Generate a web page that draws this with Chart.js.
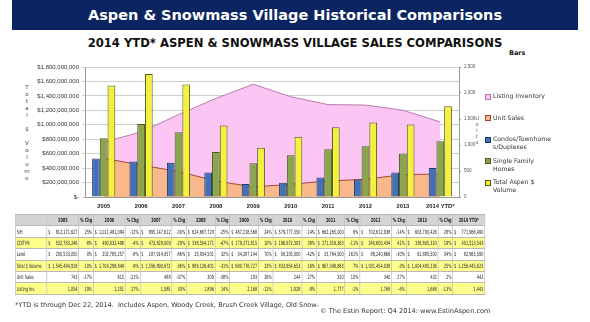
<!DOCTYPE html>
<html>
<head>
<meta charset="utf-8">
<script src="https://cdn.jsdelivr.net/npm/chart.js@4"></script>
<style>
  body { margin: 0; width: 590px; height: 322px; background: #fff; position: relative; overflow: hidden; font-family: "DejaVu Sans", sans-serif; }
  #banner { position: absolute; left: 12px; top: 0; width: 566px; height: 30px; background: #0b2462;
            color: #fff; font: bold 14.5px "DejaVu Sans", sans-serif; text-align: center; line-height: 30px; }
  #subtitle { position: absolute; left: 0; top: 36px; width: 590px; text-align: center; font: bold 11.6px "DejaVu Sans", sans-serif; color: #111; }
  #bars { position: absolute; left: 509px; top: 49px; font: bold 6.5px "DejaVu Sans", sans-serif; color: #111; }
  #chart { position: absolute; left: 0; top: 58px; }
  .vlabel { position: absolute; text-align: center; color: #444; font-family: "DejaVu Sans", sans-serif; }
  #legend { position: absolute; left: 485px; top: 92px; font: 6.2px "DejaVu Sans", sans-serif; color: #333; }
  #legend div { position: relative; padding-left: 8px; line-height: 8px; height: 21.5px; width: 80px; }
  #legend span { position: absolute; left: 0; top: 1.5px; width: 4px; height: 4px; border: 1px solid; }
  #tblwrap { position: absolute; left: 15px; top: 214px; transform-origin: 0 0; }
  table { border-collapse: collapse; font: 5.8px "DejaVu Sans Condensed", "DejaVu Sans", sans-serif; color: #222; border: 1px solid #555; }
  td { border: 1px solid #b8b8b8; height: 10.4px; padding: 0 1.5px; white-space: nowrap; text-align: right; }
  td.lbl { text-align: left; min-width: 44px; }
  tr.hd td { background: #d4d4d4; font-weight: bold; text-align: center; }
  tr.yl td { background: #ffff8c; }
  .money { display: flex; justify-content: space-between; gap: 3px; }
  #foot { position: absolute; left: 15px; top: 301px; font: 6.5px "DejaVu Sans", sans-serif; color: #333; }
  #copy { position: absolute; left: 320px; top: 307px; font: 6.6px "DejaVu Sans", sans-serif; color: #333; }
</style>
</head>
<body>
<div id="banner">Aspen &amp; Snowmass Village Historical Comparisons</div>
<div id="subtitle">2014 YTD* ASPEN &amp; SNOWMASS VILLAGE SALES COMPARISONS</div>
<div id="bars">Bars</div>
<canvas id="chart" width="480" height="157"></canvas>
<div class="vlabel" id="ytitle" style="left:22px; top:84px; width:10px; font-size:5.5px; line-height:7px;"></div>
<div class="vlabel" id="y2title" style="left:473px; top:115px; width:8px; font-size:5px; line-height:6px;"></div>
<div id="legend"></div>
<div id="tblwrap"><table id="tbl"></table></div>
<div id="foot">*YTD is through Dec 22, 2014.&nbsp; Includes Aspen, Woody Creek, Brush Creek Village, Old Snow-</div>
<div id="copy">© The Estin Report: Q4 2014: www.EstinAspen.com</div>
<script>
const years = ['2005', '2006', '2007', '2008', '2009', '2010', '2011', '2012', '2013', '2014 YTD*'];

const sfhVolume = [812171627, 1011481094, 895147612, 624687729, 467218568, 579777350, 662265000, 702612938, 603700426, 771966490];
const condoVolume = [532783246, 490032498, 473829009, 338504171, 179271815, 196972303, 271319363, 240600434, 338805310, 401513543];
const landVolume = [200533050, 202785257, 187914057, 25934501, 34287144, 58205000, 33764500, 88240666, 61895500, 82965590];
const totalVolume = [1545484918, 1704298849, 1556890672, 989126401, 680776727, 833954653, 967348863, 1031454038, 1004405236, 1256445623];
const unitSales = [743, 615, 488, 309, 193, 244, 310, 340, 432, 442];
const listingInv = [1054, 1251, 1585, 1896, 2168, 1928, 1777, 1768, 1668, 1443];

const sfhChg = ['25%', '-12%', '-30%', '-25%', '24%', '14%', '6%', '-14%', '28%'];
const condoChg = ['-8%', '-4%', '-29%', '-47%', '10%', '38%', '-11%', '41%', '19%'];
const landChg = ['0%', '-8%', '-86%', '32%', '70%', '-42%', '161%', '-30%', '34%'];
const totalChg = ['10%', '-9%', '-36%', '-31%', '23%', '16%', '7%', '-3%', '25%'];
const unitChg = ['-17%', '-21%', '-37%', '-38%', '26%', '27%', '10%', '27%', '2%'];
const listChg = ['19%', '27%', '30%', '14%', '-11%', '-8%', '-1%', '-6%', '-13%'];

const fmt = n => n.toLocaleString('en-US');

// vertical stacked axis titles
document.getElementById('ytitle').innerHTML = 'Total $ Volume'.split('').map(c => c === ' ' ? '&nbsp;' : c).join('<br>');
document.getElementById('y2title').innerHTML = 'Units'.split('').join('<br>');

const ctx = document.getElementById('chart').getContext('2d');
new Chart(ctx, {
  type: 'bar',
  data: {
    labels: years,
    datasets: [
      { type: 'line', label: 'Listing Inventory', data: listingInv, yAxisID: 'y2', fill: 'origin',
        backgroundColor: '#fbc6f3', borderColor: '#b77aa9', borderWidth: 1, pointRadius: 0, tension: 0, order: 3 },
      { type: 'line', label: 'Unit Sales', data: unitSales, yAxisID: 'y2', fill: 'origin',
        backgroundColor: '#f8b88c', borderColor: '#a8463c', borderWidth: 1, pointRadius: 0, tension: 0, order: 2 },
      { label: 'Condos/Townhomes/Duplexes', data: condoVolume, backgroundColor: '#4271b8', borderColor: '#1c3868', borderWidth: 1, order: 1 },
      { label: 'Single Family Homes', data: sfhVolume, backgroundColor: '#8ba54d', borderColor: '#4a5e22', borderWidth: 1, order: 1 },
      { label: 'Total Aspen $ Volume', data: totalVolume, backgroundColor: '#f2f23c', borderColor: '#55551a', borderWidth: 1, order: 1 }
    ]
  },
  options: {
    responsive: false,
    animation: false,
    categoryPercentage: 0.62,
    barPercentage: 1.0,
    layout: { padding: { left: 30, top: 9, right: 3, bottom: 2 } },
    plugins: { legend: { display: false }, tooltip: { enabled: false } },
    scales: {
      x: {
        grid: { display: false, drawTicks: false },
        border: { color: '#999' },
        ticks: { padding: 6, color: '#222', font: { family: 'Liberation Sans', size: 5.8, weight: 'bold' } },
        afterFit: s => { s.height = 16; }
      },
      y: {
        position: 'left', min: 0, max: 1800000000,
        grid: { color: '#cfcfcf', tickLength: 3 },
        border: { color: '#999' },
        ticks: { stepSize: 200000000, padding: 3, color: '#333', font: { family: 'Liberation Sans', size: 6 },
          callback: v => v === 0 ? '$-' : '$' + fmt(v) },
        afterFit: s => { s.width = 55; }
      },
      y2: {
        position: 'right', min: 0, max: 2500,
        grid: { drawOnChartArea: false, tickLength: 2, color: '#999' },
        border: { color: '#999' },
        ticks: { stepSize: 500, padding: 3, color: '#555', font: { family: 'Liberation Sans', size: 4.5 } },
        afterFit: s => { s.width = 18; }
      }
    }
  }
});

// legend
const legendItems = [
  ['Listing Inventory', '#fbc6f3', '#b77aa9'],
  ['Unit Sales', '#f8b88c', '#a8463c'],
  ['Condos/Townhome<br>s/Duplexes', '#4271b8', '#1c3868'],
  ['Single Family<br>Homes', '#8ba54d', '#4a5e22'],
  ['Total Aspen $<br>Volume', '#f2f23c', '#55551a']
];
document.getElementById('legend').innerHTML = legendItems.map(([t, bg, bd]) =>
  `<div><span style="background:${bg};border-color:${bd}"></span>${t}</div>`).join('');

// table
const money = v => `<div class="money"><span>$</span><span>${fmt(v)}</span></div>`;
const rows = [
  ['S/H', sfhVolume, sfhChg, money, ''],
  ['CD/THS', condoVolume, condoChg, money, 'yl'],
  ['Land', landVolume, landChg, money, ''],
  ['Total $ Volume', totalVolume, totalChg, money, 'yl'],
  ['Unit Sales', unitSales, unitChg, v => fmt(v), ''],
  ['Listing Inv.', listingInv, listChg, v => fmt(v), 'yl']
];
let html = '<tr class="hd"><td class="lbl"></td>';
years.forEach((y, i) => {
  html += `<td>${y}</td>`;
  if (i < years.length - 1) html += '<td>% Chg</td>';
});
html += '</tr>';
rows.forEach(([label, vals, chg, f, cls]) => {
  html += `<tr class="${cls}"><td class="lbl">${label}</td>`;
  vals.forEach((v, i) => {
    html += `<td>${f(v)}</td>`;
    if (i < vals.length - 1) html += `<td>${chg[i]}</td>`;
  });
  html += '</tr>';
});
const tbl = document.getElementById('tbl');
tbl.innerHTML = html;
// squeeze the table horizontally to the reference width
const w = tbl.getBoundingClientRect().width;
document.getElementById('tblwrap').style.transform = `scaleX(${470 / w})`;
</script>
</body>
</html>
